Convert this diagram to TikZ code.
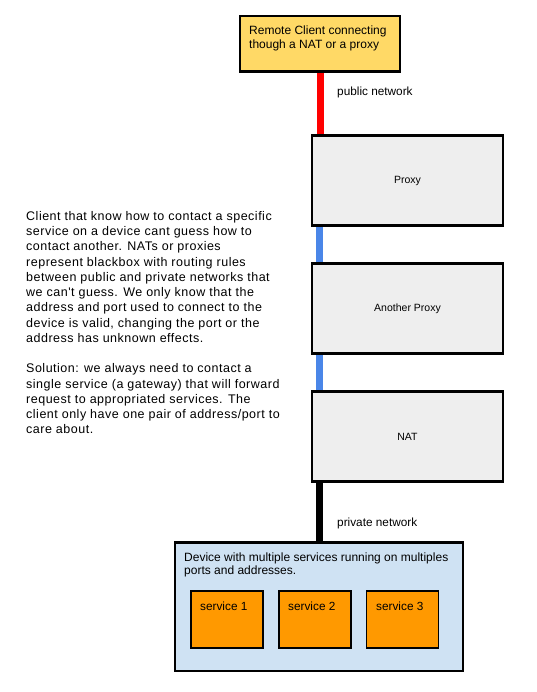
\documentclass[tikz,border=0pt]{standalone}
\usepackage{fontspec}
\setmainfont{Liberation Sans}
\newfontfamily\descfont[LetterSpace=4]{Liberation Sans}
\definecolor{clientfill}{HTML}{FFD966}
\definecolor{boxfill}{HTML}{EEEEEE}
\definecolor{devfill}{HTML}{CFE2F3}
\definecolor{svcfill}{HTML}{FF9900}
\definecolor{linkblue}{HTML}{4A86E8}
\definecolor{linkred}{HTML}{FF0000}
\begin{document}
\begin{tikzpicture}[x=1pt,y=-1pt,
  box/.style={draw=black,line width=1.6pt,inner sep=0pt},
  link/.style={line width=7pt},
  edge/.style={line width=1.6pt},
  lbl/.style={font=\fontsize{11.8}{13}\selectfont,inner sep=0pt,anchor=west},
  boxlbl/.style={font=\fontsize{10.5}{12}\selectfont}]
\useasboundingbox (0,0) rectangle (536,692);
\fill[white] (0,0) rectangle (536,692);
% boxes
\node[box,fill=clientfill,minimum width=160pt,minimum height=55pt] (client) at (320,43.5) {};
\node[anchor=north west,inner sep=0pt,align=left,font=\fontsize{12}{14}\selectfont] (clienttext) at (249,26) {Remote Client connecting\\though a NAT or a proxy};
\node[box,fill=boxfill,minimum width=191pt,minimum height=89pt,boxlbl] (proxy) at (407.5,180.5) {Proxy};
\node[box,fill=boxfill,minimum width=191pt,minimum height=89pt,boxlbl] (another) at (407.5,308.5) {Another Proxy};
\node[box,fill=boxfill,minimum width=191pt,minimum height=89pt,boxlbl] (nat) at (407.5,436.5) {NAT};
\node[box,fill=devfill,minimum width=288pt,minimum height=128pt] (device) at (319,607) {};
\node[anchor=north west,inner sep=0pt,align=left,font=\fontsize{12}{13}\selectfont] (devtext) at (184,553) {Device with multiple services running on multiples\\ports and addresses.};
\node[box,fill=svcfill,minimum width=72pt,minimum height=57pt] (s1) at (227,619.5) {};
\node[box,fill=svcfill,minimum width=72pt,minimum height=57pt] (s2) at (315,619.5) {};
\node[box,fill=svcfill,minimum width=72pt,minimum height=57pt] (s3) at (402.5,619.5) {};
\node[lbl,anchor=north west] (s1t) at (200,601.5) {service 1};
\node[lbl,anchor=north west] (s2t) at (288,601.5) {service 2};
\node[lbl,anchor=north west] (s3t) at (376,601.5) {service 3};
% connectors
\draw[link,linkred] (client.south -| 320,0) -- (proxy.north -| 320,0);
\draw[link,linkblue] (proxy.south -| 319,0) -- (another.north -| 319,0);
\draw[link,linkblue] (another.south -| 319,0) -- (nat.north -| 319,0);
\draw[link,black] (nat.south -| 319,0) -- (device.north -| 319,0);
% redraw box borders over link ends
\draw[edge] (client.south west) -- (client.south east);
\draw[edge] (proxy.north west) -- (proxy.north east) (proxy.south west) -- (proxy.south east);
\draw[edge] (another.north west) -- (another.north east) (another.south west) -- (another.south east);
\draw[edge] (nat.north west) -- (nat.north east) (nat.south west) -- (nat.south east);
\draw[edge] (device.north west) -- (device.north east);
\node[lbl] (pub) at (337,92) {public network};
\node[lbl] (priv) at (337,523) {private network};
% description
\node[anchor=north west,inner sep=0pt,align=left,font=\descfont\fontsize{12.5}{15.25}\selectfont] (desc) at (26,211) {Client that know how to contact a specific\\service on a device cant guess how to\\contact another. NATs or proxies\\represent blackbox with routing rules\\between public and private networks that\\we can't guess. We only know that the\\address and port used to connect to the\\device is valid, changing the port or the\\address has unknown effects.\\[15.25pt]Solution: we always need to contact a\\single service (a gateway) that will forward\\request to appropriated services. The\\client only have one pair of address/port to\\care about.};
\end{tikzpicture}
\end{document}
